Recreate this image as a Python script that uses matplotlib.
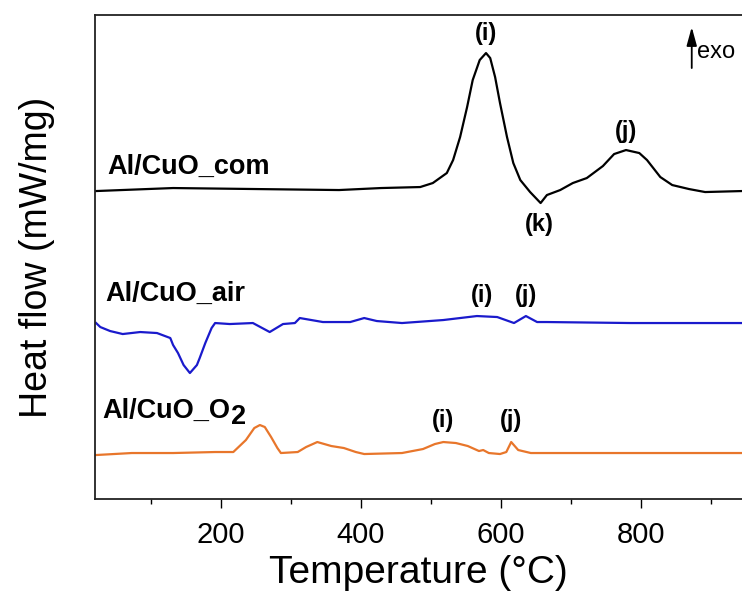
import matplotlib
matplotlib.use('Agg')
import matplotlib.pyplot as plt
import numpy as np

plt.rcParams['font.family'] = ['Liberation Sans', 'DejaVu Sans']

# DSC curves (heat flow in arbitrary units, offset per curve)
t_com = [22, 132, 250, 369, 429, 485, 503, 523, 532, 542, 552, 560, 570, 579, 585,
         592, 599, 609, 618, 628, 642, 657, 666, 685, 703, 723, 746, 762, 779, 798,
         809, 828, 845, 869, 892, 945]
hf_com = [3.08, 3.11, 3.10, 3.09, 3.11, 3.12, 3.16, 3.26, 3.39, 3.62, 3.92, 4.19, 4.39, 4.46, 4.41,
          4.22, 3.96, 3.62, 3.36, 3.19, 3.07, 2.96, 3.04, 3.09, 3.16, 3.21, 3.33, 3.45, 3.49, 3.46,
          3.39, 3.22, 3.14, 3.10, 3.07, 3.08]

t_air = [22, 28, 42, 60, 85, 109, 128, 132, 139, 147, 156, 166, 170, 178, 187,
         192, 213, 246, 270, 289, 306, 313, 346, 385, 405, 423, 459, 518, 566, 595,
         619, 636, 652, 666, 786, 945]
hf_air = [1.76, 1.72, 1.68, 1.65, 1.67, 1.66, 1.61, 1.54, 1.46, 1.34, 1.26, 1.34, 1.41, 1.56, 1.71,
          1.76, 1.75, 1.76, 1.67, 1.75, 1.76, 1.81, 1.77, 1.77, 1.81, 1.78, 1.76, 1.79, 1.83, 1.82,
          1.76, 1.83, 1.77, 1.77, 1.76, 1.76]

t_o2 = [22, 73, 132, 192, 218, 236, 248, 256, 263, 272, 281, 286, 310, 322, 338,
        358, 376, 393, 405, 459, 489, 506, 518, 536, 553, 569, 575, 583, 599, 608,
        615, 625, 643, 945]
hf_o2 = [0.44, 0.46, 0.46, 0.47, 0.47, 0.59, 0.71, 0.74, 0.72, 0.62, 0.51, 0.46, 0.47, 0.52, 0.57,
         0.53, 0.51, 0.47, 0.45, 0.46, 0.50, 0.55, 0.57, 0.56, 0.53, 0.48, 0.49, 0.46, 0.45, 0.47,
         0.57, 0.49, 0.46, 0.46]

fig = plt.figure(figsize=(7.42, 5.95), dpi=100)
ax = fig.add_axes([0.128, 0.1613, 0.872, 0.8134])

ax.plot(t_com, hf_com, color='black', lw=1.6, solid_joinstyle='round')
ax.plot(t_air, hf_air, color='#1a1acc', lw=1.6, solid_joinstyle='round')
ax.plot(t_o2, hf_o2, color='#e8762b', lw=1.6, solid_joinstyle='round')

ax.set_xlim(20.4, 944.7)
ax.set_ylim(0, 4.84)

# sample names
ax.text(37.6, 3.25, 'Al/CuO_com', fontsize=19.5, fontweight='bold', ha='left', va='baseline')
ax.text(34.7, 1.98, 'Al/CuO_air', fontsize=19.5, fontweight='bold', ha='left', va='baseline')
t = ax.text(30.4, 0.81, 'Al/CuO_O', fontsize=19.5, fontweight='bold', ha='left', va='baseline')
ax.annotate('2', xy=(1, 0), xycoords=t, xytext=(1, -4), textcoords='offset points',
            fontsize=19.5, fontweight='bold', ha='left', va='bottom')

# peak labels
peaks = [(579, 4.66, '(i)'), (655, 2.75, '(k)'), (779, 3.68, '(j)'),
         (573, 2.04, '(i)'), (636, 2.04, '(j)'),
         (518, 0.79, '(i)'), (615, 0.79, '(j)')]
for px, py, lab in peaks:
    ax.text(px, py, lab, fontsize=17, fontweight='bold', ha='center', va='center')

# exo arrow
ax.annotate('', xy=(872.9, 4.72), xytext=(872.9, 4.31),
            arrowprops=dict(arrowstyle='-|>,head_length=0.8,head_width=0.22',
                            color='black', lw=1.3, mutation_scale=14, shrinkA=0, shrinkB=0))
ax.text(881, 4.475, 'exo', fontsize=17, ha='left', va='center')

ax.set_xticks([200, 400, 600, 800])
ax.set_xticks([100, 300, 500, 700, 900], minor=True)
ax.set_yticks([])
ax.tick_params(axis='x', which='major', direction='out', length=6.5, width=1.0,
               labelsize=21, pad=9)
ax.tick_params(axis='x', which='minor', direction='out', length=3.5, width=1.0)
for s in ['left', 'bottom', 'top']:
    ax.spines[s].set_linewidth(1.3)
    ax.spines[s].set_color('#222222')
ax.spines['right'].set_visible(False)

ax.set_xlabel('Temperature (°C)', fontsize=28, labelpad=5)
ax.set_ylabel('Heat flow (mW/mg)', fontsize=27, labelpad=29)

plt.savefig('out.png', dpi=100)
plt.close()
